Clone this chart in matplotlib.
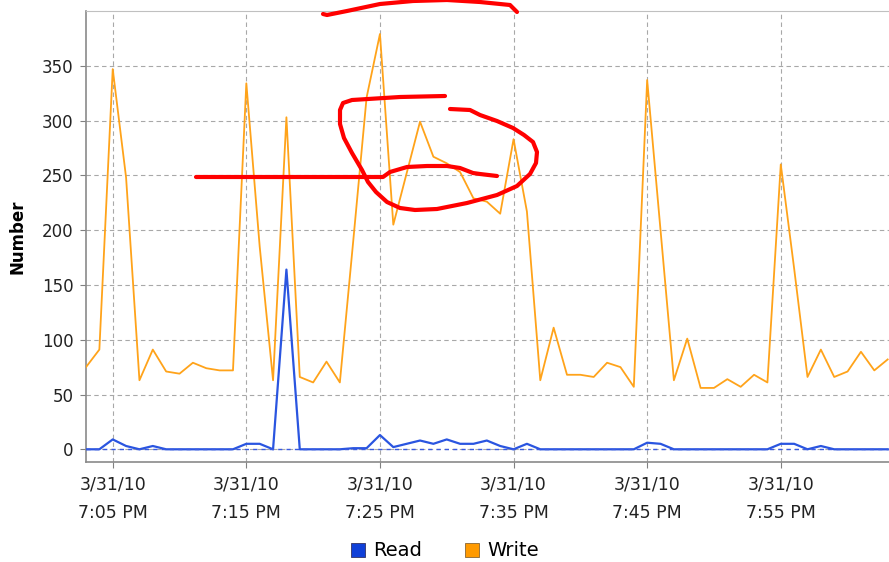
import pandas as pd
import matplotlib.pyplot as plt
import matplotlib.dates as mdates
from matplotlib.lines import Line2D
from matplotlib.patches import Patch
from matplotlib.transforms import Affine2D

# one sample per minute starting at 7:03 PM
times = pd.date_range("2010-03-31 19:03", periods=61, freq="min")

write_ops = [75, 91, 347, 248, 63, 91, 71, 69, 79, 74,
             72, 72, 334, 185, 63, 303, 66, 61, 80, 61,
             190, 321, 379, 205, 252, 299, 267, 261, 253, 229,
             226, 215, 283, 217, 63, 111, 68, 68, 66, 79,
             75, 57, 337, 200, 63, 101, 56, 56, 64, 57,
             68, 61, 260, 165, 66, 91, 66, 71, 89, 72,
             82]

read_ops = [0, 0, 9, 3, 0, 3, 0, 0, 0, 0,
            0, 0, 5, 5, 0, 164, 0, 0, 0, 0,
            1, 1, 13, 2, 5, 8, 5, 9, 5, 5,
            8, 3, 0, 5, 0, 0, 0, 0, 0, 0,
            0, 0, 6, 5, 0, 0, 0, 0, 0, 0,
            0, 0, 5, 5, 0, 3, 0, 0, 0, 0,
            0]

series_names = ["Read", "Write"]
y_ticks = [0, 50, 100, 150, 200, 250, 300, 350]

# pen strokes drawn over the chart, in image pixels (x right, y down)
stroke_underline = [(196, 177), (280, 177), (383, 177), (390, 172), (407, 167),
                    (427, 166), (447, 166), (460, 168), (473, 173), (480, 174),
                    (497, 176)]
stroke_loop = [(450, 109), (470, 110), (480, 115), (497, 121), (513, 128),
               (524, 135), (533, 142), (537, 152), (536, 163), (530, 174),
               (517, 186), (497, 195), (467, 203), (437, 209), (415, 210),
               (400, 208), (387, 202), (376, 192), (368, 182), (362, 170),
               (352, 153), (344, 138), (340, 124), (340, 110), (343, 103),
               (352, 100), (400, 97), (445, 96)]
stroke_top = [(323, 14), (327, 15), (347, 11), (380, 4), (413, 1), (447, 0),
              (480, 2), (510, 5), (517, 12)]

W, H = 889, 562
fig = plt.figure(figsize=(W / 100, H / 100), dpi=100)
ax = fig.add_axes([86 / W, (H - 462) / H, (W - 86) / W, 451 / H])

grid_kw = dict(color="#a8a8a8", linewidth=0.8, linestyle=(0, (4, 3)))
ax.set_axisbelow(True)
ax.yaxis.grid(True, **grid_kw)
ax.xaxis.grid(True, **grid_kw)

ax.plot(times, write_ops, color="#ffa31a", linewidth=1.3, zorder=3)
ax.plot(times, read_ops, color="#2a55e0", linewidth=1.6, zorder=4)
ax.axhline(0, color="#3a5ae0", linewidth=1.0, linestyle=(0, (3, 3)), zorder=5)

ax.set_ylim(-11.6, 400)
ax.set_yticks(y_ticks)
ax.set_xlim(times[0], times[0] + pd.Timedelta(minutes=60.1))

ax.xaxis.set_major_locator(mdates.MinuteLocator(byminute=[5, 15, 25, 35, 45, 55]))


def time_label(x, pos):
    d = mdates.num2date(x)
    hour = d.hour % 12 or 12
    return f"{d.month}/{d.day}/{d:%y}\n{hour}:{d:%M} {d:%p}"


ax.xaxis.set_major_formatter(plt.FuncFormatter(time_label))
for lab in ax.get_xticklabels():
    lab.set_linespacing(1.75)

ax.tick_params(axis="both", colors="#808080", length=4, width=0.8,
               labelcolor="#222222", labelsize=12)
ax.tick_params(axis="x", pad=6, labelsize=12.5)
ax.tick_params(axis="y", pad=5)

for side in ["left", "bottom"]:
    ax.spines[side].set_color("#8a8a8a")
    ax.spines[side].set_linewidth(1.2)
ax.spines["top"].set_color("#c0c0c0")
ax.spines["right"].set_visible(False)

ax.set_ylabel("Number", fontsize=12, fontweight="bold")
ax.yaxis.set_label_coords(-0.074, 0.5)

handles = [Patch(facecolor="#1040d8", edgecolor="#333366", linewidth=0.6),
           Patch(facecolor="#ff9a00", edgecolor="#886633", linewidth=0.6)]
fig.legend(handles, series_names, loc="center", bbox_to_anchor=(0.5, 1 - 551 / H),
           ncol=2, frameon=False, fontsize=14, handlelength=0.75, handleheight=0.75,
           handletextpad=0.4, columnspacing=2.2)

# red pen marks
px = Affine2D().scale(1 / W, -1 / H).translate(0, 1) + fig.transFigure
for stroke in [stroke_underline, stroke_loop, stroke_top]:
    xs, ys = zip(*stroke)
    fig.add_artist(Line2D(xs, ys, transform=px, color="#ff0000", linewidth=3.0,
                          solid_capstyle="round", solid_joinstyle="round", zorder=10))

fig.savefig("out.png", dpi=100)
